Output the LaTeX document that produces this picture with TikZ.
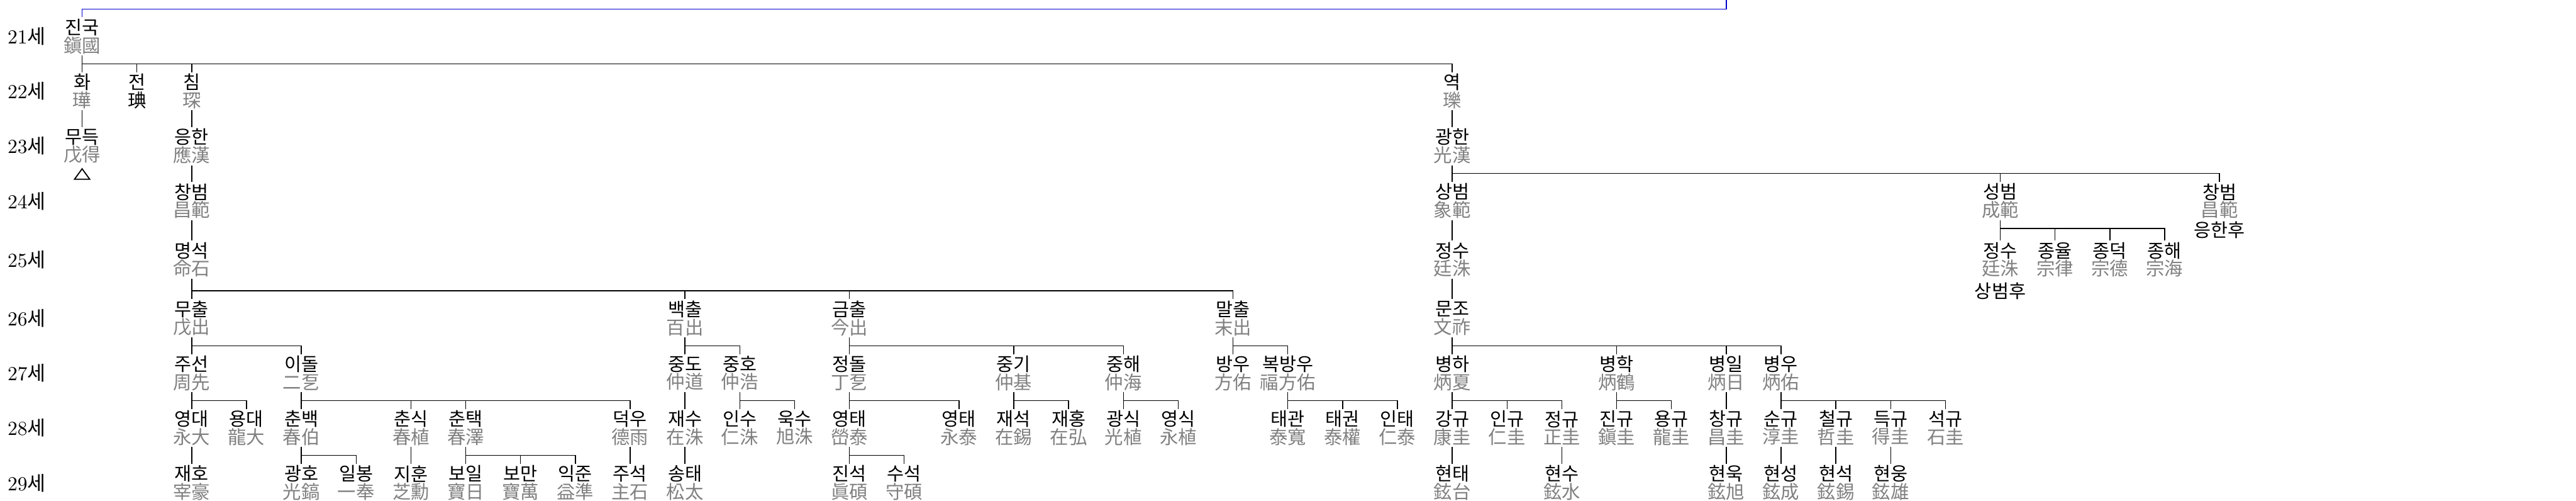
\documentclass[tikz,border=0pt]{standalone}
\usepackage{fontspec}
\usepackage{xcolor}
\usepackage{tikz}
\usetikzlibrary{calc}
\newfontfamily\kor{Noto Sans CJK KR}
\definecolor{hanja}{gray}{0.5}
\definecolor{uplink}{RGB}{0,0,204}
\setlength{\lineskiplimit}{-20pt}
\newcommand{\hj}[1]{\textcolor{hanja}{#1}}
% parent, bar coordinate, children
\newcommand{\kin}[3]{%
  \draw[rel] (#1.south) -- (#1.south |- #2);
  \foreach \kid in {#3}{\draw[rel] (#1.south |- #2) -| (\kid.north);}
}

\begin{document}
\begin{tikzpicture}[
      person/.style={align=center, inner sep=0pt, minimum height=0.684cm,
        font=\kor\fontsize{9.6pt}{9.3pt}\selectfont},
      note/.style={inner sep=0pt, font=\kor\fontsize{9.6pt}{9.3pt}\selectfont},
      gen/.style={inner sep=0pt, font=\fontsize{10.3pt}{12pt}\selectfont},
      rel/.style={-, draw=black, line width=0.5pt},
      link/.style={-, draw=uplink, line width=0.5pt}
      ]
      \useasboundingbox (-1.4982,0) rectangle (45.5055,-9.1345);

      % generation labels
      \foreach \r/\y in {21/-0.664,22/-1.664,23/-2.664,24/-3.664,25/-4.734,
                         26/-5.804,27/-6.804,28/-7.804,29/-8.804}
        \node[gen] (g\r) at (-1.011,\y) {\r{\kor 세}};

      % bars
      \coordinate (b21) at (0,-0.164);
      \coordinate (b22) at (0,-1.164);
      \coordinate (b23) at (0,-2.164);
      \coordinate (b24) at (0,-3.164);
      \coordinate (b25) at (0,-4.164);
      \coordinate (b26) at (0,-5.304);
      \coordinate (b27) at (0,-6.304);
      \coordinate (b28) at (0,-7.304);
      \coordinate (b29) at (0,-8.304);
      \coordinate (up) at (30,0);

      % 21
      \node[person] (jinguk) at (0,-0.664) {진국\\\hj{鎭國}};
      % 22
      \node[person] (hwa) at (0,-1.664) {화\\\hj{璍}};
      \node[person] (jeon) at (1,-1.664) {전\\琠};
      \node[person] (chim) at (2,-1.664) {침\\\hj{琛}};
      \node[person] (yeok) at (25,-1.664) {역\\\hj{瓅}};
      % 23
      \node[person] (mudeuk) at (0,-2.664) {무득\\\hj{戊得}};
      \node[person] (eunghan) at (2,-2.664) {응한\\\hj{應漢}};
      \node[person] (gwanghan) at (25,-2.664) {광한\\\hj{光漢}};
      % 24
      \node[person] (changbeom) at (2,-3.664) {창범\\\hj{昌範}};
      \node[person] (sangbeom) at (25,-3.664) {상범\\\hj{象範}};
      \node[person] (seongbeom) at (35,-3.664) {성범\\\hj{成範}};
      \node[person] (changbeomb) at (39,-3.664) {창범\\\hj{昌範}};
      \node[note] (eunghanhu) at (39,-4.189) {응한후};
      % 25
      \node[person] (myeongseok) at (2,-4.734) {명석\\\hj{命石}};
      \node[person] (jeongsu) at (25,-4.734) {정수\\\hj{廷洙}};
      \node[person] (jeongsub) at (35,-4.734) {정수\\\hj{廷洙}};
      \node[person] (jongyul) at (36,-4.734) {종율\\\hj{宗律}};
      \node[person] (jongdeok) at (37,-4.734) {종덕\\\hj{宗德}};
      \node[person] (jonghae) at (38,-4.734) {종해\\\hj{宗海}};
      \node[note] (sangbeomhu) at (35,-5.309) {상범후};
      % 26
      \node[person] (muchul) at (2,-5.804) {무출\\\hj{戊出}};
      \node[person] (baekchul) at (11,-5.804) {백출\\\hj{百出}};
      \node[person] (geumchul) at (14,-5.804) {금출\\\hj{今出}};
      \node[person] (malchul) at (21,-5.804) {말출\\\hj{末出}};
      \node[person] (munjo) at (25,-5.804) {문조\\\hj{文祚}};
      % 27
      \node[person] (juseon) at (2,-6.804) {주선\\\hj{周先}};
      \node[person] (idol) at (4,-6.804) {이돌\\\hj{二乭}};
      \node[person] (jungdo) at (11,-6.804) {중도\\\hj{仲道}};
      \node[person] (jungho) at (12,-6.804) {중호\\\hj{仲浩}};
      \node[person] (jeongdol) at (14,-6.804) {정돌\\\hj{丁乭}};
      \node[person] (junggi) at (17,-6.804) {중기\\\hj{仲基}};
      \node[person] (junghae) at (19,-6.804) {중해\\\hj{仲海}};
      \node[person] (bangu) at (21,-6.804) {방우\\\hj{方佑}};
      \node[person] (bokbangu) at (22,-6.804) {복방우\\\hj{福方佑}};
      \node[person] (byeongha) at (25,-6.804) {병하\\\hj{炳夏}};
      \node[person] (byeonghak) at (28,-6.804) {병학\\\hj{炳鶴}};
      \node[person] (byeongil) at (30,-6.804) {병일\\\hj{炳日}};
      \node[person] (byeongu) at (31,-6.804) {병우\\\hj{炳佑}};
      % 28
      \node[person] (yeongdae) at (2,-7.804) {영대\\\hj{永大}};
      \node[person] (yongdae) at (3,-7.804) {용대\\\hj{龍大}};
      \node[person] (chunbaek) at (4,-7.804) {춘백\\\hj{春伯}};
      \node[person] (chunsik) at (6,-7.804) {춘식\\\hj{春植}};
      \node[person] (chuntaek) at (7,-7.804) {춘택\\\hj{春澤}};
      \node[person] (deogu) at (10,-7.804) {덕우\\\hj{德雨}};
      \node[person] (jaesu) at (11,-7.804) {재수\\\hj{在洙}};
      \node[person] (insu) at (12,-7.804) {인수\\\hj{仁洙}};
      \node[person] (uksu) at (13,-7.804) {욱수\\\hj{旭洙}};
      \node[person] (yeongtae) at (14,-7.804) {영태\\\hj{嵤泰}};
      \node[person] (yeongtaeb) at (16,-7.804) {영태\\\hj{永泰}};
      \node[person] (jaeseok) at (17,-7.804) {재석\\\hj{在錫}};
      \node[person] (jaehong) at (18,-7.804) {재홍\\\hj{在弘}};
      \node[person] (gwangsik) at (19,-7.804) {광식\\\hj{光植}};
      \node[person] (yeongsik) at (20,-7.804) {영식\\\hj{永植}};
      \node[person] (taegwan) at (22,-7.804) {태관\\\hj{泰寬}};
      \node[person] (taegwon) at (23,-7.804) {태권\\\hj{泰權}};
      \node[person] (intae) at (24,-7.804) {인태\\\hj{仁泰}};
      \node[person] (ganggyu) at (25,-7.804) {강규\\\hj{康圭}};
      \node[person] (ingyu) at (26,-7.804) {인규\\\hj{仁圭}};
      \node[person] (jeonggyu) at (27,-7.804) {정규\\\hj{正圭}};
      \node[person] (jingyu) at (28,-7.804) {진규\\\hj{鎭圭}};
      \node[person] (yonggyu) at (29,-7.804) {용규\\\hj{龍圭}};
      \node[person] (changgyu) at (30,-7.804) {창규\\\hj{昌圭}};
      \node[person] (sungyu) at (31,-7.804) {순규\\\hj{淳圭}};
      \node[person] (cheolgyu) at (32,-7.804) {철규\\\hj{哲圭}};
      \node[person] (deukgyu) at (33,-7.804) {득규\\\hj{得圭}};
      \node[person] (seokgyu) at (34,-7.804) {석규\\\hj{石圭}};
      % 29
      \node[person] (jaeho) at (2,-8.804) {재호\\\hj{宰豪}};
      \node[person] (gwangho) at (4,-8.804) {광호\\\hj{光鎬}};
      \node[person] (ilbong) at (5,-8.804) {일봉\\\hj{一奉}};
      \node[person] (jihun) at (6,-8.804) {지훈\\\hj{芝勳}};
      \node[person] (boil) at (7,-8.804) {보일\\\hj{寶日}};
      \node[person] (boman) at (8,-8.804) {보만\\\hj{寶萬}};
      \node[person] (ikjun) at (9,-8.804) {익준\\\hj{益準}};
      \node[person] (juseok) at (10,-8.804) {주석\\\hj{主石}};
      \node[person] (songtae) at (11,-8.804) {송태\\\hj{松太}};
      \node[person] (jinseok) at (14,-8.804) {진석\\\hj{眞碩}};
      \node[person] (suseok) at (15,-8.804) {수석\\\hj{守碩}};
      \node[person] (hyeontae) at (25,-8.804) {현태\\\hj{鉉台}};
      \node[person] (hyeonsu) at (27,-8.804) {현수\\\hj{鉉水}};
      \node[person] (hyeonuk) at (30,-8.804) {현욱\\\hj{鉉旭}};
      \node[person] (hyeonseong) at (31,-8.804) {현성\\\hj{鉉成}};
      \node[person] (hyeonseok) at (32,-8.804) {현석\\\hj{鉉錫}};
      \node[person] (hyeonung) at (33,-8.804) {현웅\\\hj{鉉雄}};

      % link to the line above
      \draw[link] (jinguk.north) -- (jinguk.north |- b21) -| (up);

      % lines of descent
      \kin{jinguk}{b22}{hwa,jeon,chim,yeok}
      \kin{hwa}{b23}{mudeuk}
      \kin{chim}{b23}{eunghan}
      \kin{eunghan}{b24}{changbeom}
      \kin{changbeom}{b25}{myeongseok}
      \kin{myeongseok}{b26}{muchul,baekchul,geumchul,malchul}
      \kin{yeok}{b23}{gwanghan}
      \kin{gwanghan}{b24}{sangbeom,seongbeom,changbeomb}
      \kin{sangbeom}{b25}{jeongsu}
      \kin{jeongsu}{b26}{munjo}
      \kin{seongbeom}{b25}{jeongsub,jongyul,jongdeok,jonghae}
      \kin{munjo}{b27}{byeongha,byeonghak,byeongil,byeongu}
      \kin{muchul}{b27}{juseon,idol}
      \kin{baekchul}{b27}{jungdo,jungho}
      \kin{geumchul}{b27}{jeongdol,junggi,junghae}
      \kin{malchul}{b27}{bangu,bokbangu}
      \kin{juseon}{b28}{yeongdae,yongdae}
      \kin{idol}{b28}{chunbaek,chunsik,chuntaek,deogu}
      \kin{jungdo}{b28}{jaesu}
      \kin{jungho}{b28}{insu,uksu}
      \kin{jeongdol}{b28}{yeongtae,yeongtaeb}
      \kin{junggi}{b28}{jaeseok,jaehong}
      \kin{junghae}{b28}{gwangsik,yeongsik}
      \kin{bokbangu}{b28}{taegwan,taegwon,intae}
      \kin{byeongha}{b28}{ganggyu,ingyu,jeonggyu}
      \kin{byeonghak}{b28}{jingyu,yonggyu}
      \kin{byeongil}{b28}{changgyu}
      \kin{byeongu}{b28}{sungyu,cheolgyu,deukgyu,seokgyu}
      \kin{yeongdae}{b29}{jaeho}
      \kin{chunbaek}{b29}{gwangho,ilbong}
      \kin{chunsik}{b29}{jihun}
      \kin{chuntaek}{b29}{boil,boman,ikjun}
      \kin{deogu}{b29}{juseok}
      \kin{jaesu}{b29}{songtae}
      \kin{yeongtae}{b29}{jinseok,suseok}
      \kin{ganggyu}{b29}{hyeontae}
      \kin{jeonggyu}{b29}{hyeonsu}
      \kin{changgyu}{b29}{hyeonuk}
      \kin{sungyu}{b29}{hyeonseong}
      \kin{cheolgyu}{b29}{hyeonseok}
      \kin{deukgyu}{b29}{hyeonung}

      % mark under mudeuk
      \draw[rel, line width=0.6pt] ($(mudeuk.south)+(0,-0.065)$) -- ++(0.138,-0.189)
        -- ++(-0.276,0) -- cycle;
\end{tikzpicture}
\end{document}
